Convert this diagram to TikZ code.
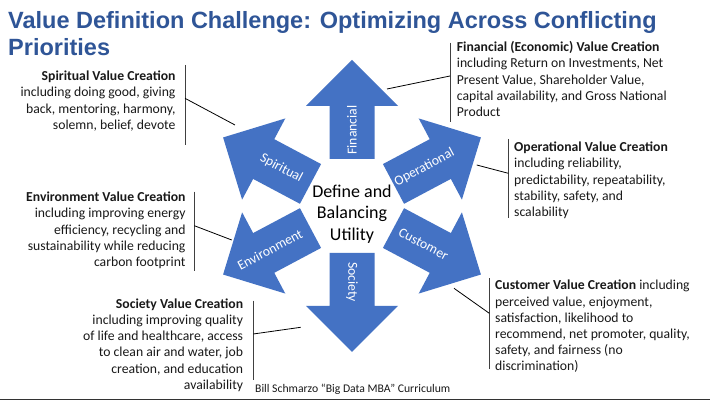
\documentclass[tikz,border=0pt]{standalone}
\usepackage{fontspec}
\setmainfont{Carlito}
\newfontfamily\titlefont{Liberation Sans}
\usetikzlibrary{calc}
\definecolor{arrowblue}{HTML}{4472C4}
\definecolor{titleblue}{HTML}{2F5597}
\definecolor{bargray}{HTML}{404040}
\newcommand\valuearrow[1]{%
  \begin{scope}[shift={(352,195)}, rotate=#1]
    \fill[arrowblue] (47,22.5) -- (100,22.5) -- (100,46) -- (146,0) -- (100,-46) -- (100,-22.5) -- (47,-22.5) -- cycle;
  \end{scope}}
\begin{document}
\begin{tikzpicture}[x=1pt,y=1pt,
  arrlabel/.style={text=white, font=\fontsize{13.7}{16}\selectfont, inner sep=0},
  desc/.style={inner sep=0, font=\fontsize{13.7}{16.2}\selectfont, text=black!90},
  bar/.style={draw=bargray, line width=1pt},
  conn/.style={draw=black, line width=0.8pt}]
\useasboundingbox (0,0) rectangle (710,401);
\fill[white] (0,0) rectangle (710,401);
\coordinate (ctr) at (352,195);

% title
\node[anchor=base west, inner sep=0, text=titleblue, font=\titlefont\bfseries\fontsize{23.5}{27}\selectfont] (title1) at (8,372.5) {Value Definition Challenge: Optimizing Across Conflicting};
\node[anchor=base west, inner sep=0, text=titleblue, font=\titlefont\bfseries\fontsize{23.5}{27}\selectfont] (title2) at (8,345.5) {Priorities};

% arrows
\valuearrow{90}
\valuearrow{28}
\valuearrow{-28}
\valuearrow{-90}
\valuearrow{208}
\valuearrow{152}

\node[arrlabel, rotate=90] (finlbl) at ($(ctr)+(90:76)$) {Financial};
\node[arrlabel, rotate=-90] (soclbl) at ($(ctr)+(-90:76)$) {Society};
\node[arrlabel, rotate=28] (oplbl) at ($(ctr)+(28:82)$) {Operational};
\node[arrlabel, rotate=-28] (cuslbl) at ($(ctr)+(-28:81)$) {Customer};
\node[arrlabel, rotate=-28] (spilbl) at ($(ctr)+(152:80)$) {Spiritual};
\node[arrlabel, rotate=28] (envlbl) at ($(ctr)+(208:93)$) {Environment};

% center text
\node[inner sep=0, align=center, font=\fontsize{18}{21.5}\selectfont] (center) at (352,187.2) {Define and\\Balancing\\Utility};

% description blocks
\node[desc, anchor=base west] (fintxt) at (456.7,349.3) {\begin{tabular}[t]{@{}l@{}}\textbf{Financial (Economic) Value Creation}\\ including Return on Investments, Net\\ Present Value, Shareholder Value,\\ capital availability, and Gross National\\ Product\end{tabular}};
\node[desc, anchor=base west] (optxt) at (514,249.3) {\begin{tabular}[t]{@{}l@{}}\textbf{Operational Value Creation}\\ including reliability,\\ predictability, repeatability,\\ stability, safety, and\\ scalability\end{tabular}};
\node[desc, anchor=base west] (custxt) at (495,111) {\begin{tabular}[t]{@{}l@{}}\textbf{Customer Value Creation} including\\ perceived value, enjoyment,\\ satisfaction, likelihood to\\ recommend, net promoter, quality,\\ safety, and fairness (no\\ discrimination)\end{tabular}};
\node[desc, anchor=base east] (soctxt) at (243.3,92.7) {\begin{tabular}[t]{@{}r@{}}\textbf{Society Value Creation}\\ including improving quality\\ of life and healthcare, access\\ to clean air and water, job\\ creation, and education\\ availability\end{tabular}};
\node[desc, anchor=base east] (envtxt) at (185.7,199.3) {\begin{tabular}[t]{@{}r@{}}\textbf{Environment Value Creation}\\ including improving energy\\ efficiency, recycling and\\ sustainability while reducing\\ carbon footprint\end{tabular}};
\node[desc, anchor=base east] (spitxt) at (175.7,320.3) {\begin{tabular}[t]{@{}r@{}}\textbf{Spiritual Value Creation}\\ including doing good, giving\\ back, mentoring, harmony,\\ solemn, belief, devote\end{tabular}};

% bars
\draw[bar] (450,358.3) -- (450,279.3);
\draw[bar] (508.3,262) -- (508.3,183);
\draw[bar] (489.3,122.7) -- (489.3,31.7);
\draw[bar] (253.3,100.3) -- (253.3,21);
\draw[bar] (194.3,209.3) -- (194.3,130.3);
\draw[bar] (185,336) -- (185,256);

% connectors
\coordinate (finA) at (387,312);   \coordinate (finB) at (450,325);
\coordinate (opA) at (476.7,236);  \coordinate (opB) at (508.3,227.7);
\coordinate (cusA) at (454,112.7); \coordinate (cusB) at (489.3,87.7);
\coordinate (socA) at (300.7,73.7); \coordinate (socB) at (253.3,67);
\coordinate (envA) at (231.7,161); \coordinate (envB) at (194.3,175.3);
\coordinate (spiA) at (235,276);   \coordinate (spiB) at (185,302.7);
\draw[conn] (finA) -- (finB);
\draw[conn] (opA) -- (opB);
\draw[conn] (cusA) -- (cusB);
\draw[conn] (socA) -- (socB);
\draw[conn] (envA) -- (envB);
\draw[conn] (spiA) -- (spiB);

% caption
\node[anchor=base west, inner sep=0, font=\fontsize{11.7}{14}\selectfont, text=black!90] (caption) at (255,8) {Bill Schmarzo “Big Data MBA” Curriculum};

% bottom rule
\coordinate (ruleL) at (0,1.3); \coordinate (ruleR) at (710,1.3);
\draw[draw=black!80, line width=1.6pt] (ruleL) -- (ruleR);
\end{tikzpicture}
\end{document}
